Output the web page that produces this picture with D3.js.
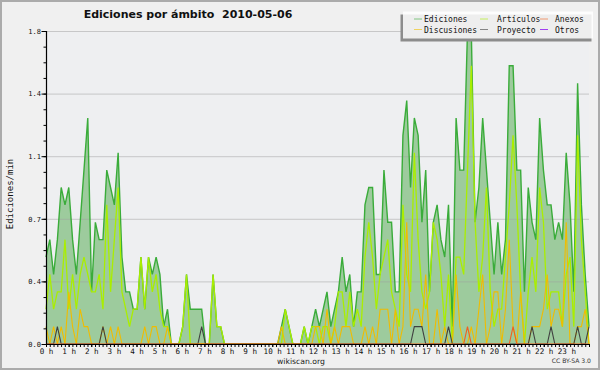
<!DOCTYPE html>
<html>
<head>
<meta charset="utf-8">
<title>Ediciones por ámbito 2010-05-06</title>
<script src="https://d3js.org/d3.v7.min.js"></script>
<style>
  body { margin: 0; background: #f0f0f0; }
  svg { display: block; }
</style>
</head>
<body>
<script>
// edits per minute, 144 samples over the day (6 per row)
var ediciones = [
  0.5,0.6,0.4,0.6,0.9,0.8,
  0.9,0.6,0.4,0.7,1.0,1.3,
  0.3,0.7,0.6,0.6,1.0,0.9,
  0.8,1.1,0.5,0.3,0.3,0.2,
  0.2,0.5,0.2,0.5,0.4,0.5,
  0.4,0.1,0.2,0,0,0,
  0.1,0.4,0.2,0.2,0.2,0.2,
  0,0,0.4,0.1,0.1,0,
  0,0,0,0,0,0,
  0,0,0,0,0,0,
  0,0,0.1,0.2,0.1,0,
  0,0,0.1,0,0.1,0.2,
  0.1,0.2,0.3,0.1,0.2,0.3,
  0.5,0.3,0.4,0.1,0.3,0.3,
  0.8,0.9,0.9,0.4,0.4,1.0,
  0.7,0.7,0.3,0.3,1.2,1.4,
  0.9,1.3,1.2,0.7,1.0,0.3,
  0.7,0.8,0.6,0.5,0.8,0.1,
  1.3,1.0,1.0,1.8,1.8,0.7,
  0.9,1.3,1.0,0.7,0.4,0.7,
  0.4,0.6,1.6,1.6,1.0,1.0,
  0.3,0.9,0.7,0.6,1.3,1.0,
  0.8,0.8,0.6,0.7,0.6,1.1,
  0.8,0.3,1.5,0.8,0.4,0.1
];

var articulos = [
  0.2,0.4,0.2,0.3,0.3,0.6,
  0.2,0.4,0.2,0.4,0.5,0.4,
  0.3,0.3,0.4,0.2,0.8,0.3,
  0.6,0.9,0.3,0.2,0.1,0.2,
  0.2,0.5,0.2,0.5,0.3,0.4,
  0.2,0.1,0.1,0,0,0,
  0.1,0.4,0,0,0,0,
  0,0,0.4,0.1,0.1,0,
  0,0,0,0,0,0,
  0,0,0,0,0,0,
  0,0,0,0.2,0.1,0,
  0,0,0.1,0,0.1,0.1,
  0,0.1,0.1,0,0.1,0.3,
  0.3,0.1,0.3,0.1,0.2,0.1,
  0.5,0.7,0.5,0.2,0.4,0.5,
  0.6,0.3,0.2,0.1,0.8,0.4,
  0.3,1.1,0.6,0.3,0.2,0.3,
  0.7,0.6,0.4,0.1,0.4,0,
  0.5,0.5,0.4,1.0,1.6,0.7,
  0.3,0.5,0.9,0.3,0.1,0.2,
  0.2,0.5,0.8,1.2,0.8,0.3,
  0,0.3,0.5,0.3,0.9,0.7,
  0.2,0.3,0.3,0.3,0.1,0.4,
  0.5,0.1,1.2,0.6,0.3,0
];

var discusiones = [
  0.1,0,0.1,0,0.1,0,
  0.3,0.1,0,0.2,0.1,0.1,
  0,0,0,0.1,0,0.1,
  0,0.1,0,0,0,0,
  0,0,0.1,0,0.1,0.1,
  0,0,0.1,0,0,0,
  0,0,0,0,0,0,
  0,0,0,0,0,0,
  0,0,0,0,0,0,
  0,0,0,0,0,0,
  0,0,0.1,0,0,0,
  0,0,0,0,0,0.1,
  0.1,0,0.2,0,0.1,0,
  0.1,0.1,0.1,0,0,0,
  0.1,0,0.1,0,0.2,0.2,
  0.2,0,0.2,0,0.1,0.7,
  0.1,0.2,0.2,0.1,0.4,0,
  0,0.2,0,0.1,0,0,
  0.4,0.1,0,0,0.1,0,
  0.2,0.4,0,0.1,0.3,0.3,
  0,0.2,0.6,0.1,0,0.3,
  0,0,0.1,0.1,0.1,0.2,
  0.4,0.1,0.2,0.2,0.1,0.7,
  0,0,0.1,0.1,0.2,0
];

var proyecto = [
  0,0,0,0.1,0,0,
  0,0,0,0,0,0,
  0,0,0,0.1,0,0,
  0,0,0,0,0,0,
  0,0,0,0,0,0,
  0,0,0,0,0,0,
  0,0,0,0,0,0.1,
  0,0,0,0,0,0,
  0,0,0,0,0,0,
  0,0,0,0,0,0,
  0,0,0,0,0,0,
  0,0,0,0,0,0,
  0,0,0,0,0,0,
  0,0,0,0,0,0,
  0,0,0,0,0,0,
  0,0,0,0,0,0,
  0,0.1,0.1,0.1,0,0,
  0,0,0,0,0.1,0,
  0,0,0,0,0,0,
  0,0,0,0,0,0,
  0,0,0,0,0,0,
  0,0,0.1,0,0,0,
  0,0.1,0,0,0,0,
  0,0,0.1,0,0,0.1
];

var anexos = [
  0,0,0,0,0,0,
  0,0,0,0,0,0,
  0,0,0,0,0,0,
  0,0,0,0,0,0,
  0,0,0,0,0,0,
  0,0,0,0,0,0,
  0,0,0,0,0,0,
  0,0,0,0,0,0,
  0,0,0,0,0,0,
  0,0,0,0,0,0,
  0,0,0,0,0,0,
  0,0,0,0,0,0,
  0,0,0,0,0,0,
  0,0,0,0,0,0,
  0,0,0,0,0,0,
  0,0,0,0,0,0,
  0,0,0,0,0,0,
  0,0,0,0,0,0,
  0,0,0,0.1,0,0,
  0,0,0,0,0,0,
  0,0,0,0.1,0,0,
  0,0,0,0,0,0,
  0,0,0,0,0,0,
  0,0,0,0,0,0
];

var yTicks = [0, 0.36, 0.72, 1.08, 1.44, 1.8];
var hourTicks = [0,1,2,3,4,5,6,7,8,9,10,11,12,13,14,15,16,17,18,19,20,21,22,23];
var hourLabels = ["0 h","1 h","2 h","3 h","4 h","5 h","6 h","7 h","8 h","9 h","10 h","11 h",
                  "12 h","13 h","14 h","15 h","16 h","17 h","18 h","19 h","20 h","21 h","22 h","23 h"];

var legendNames = ["Ediciones", "Discusiones", "Artículos", "Proyecto", "Anexos", "Otros"];
var legendColors = ["#3aac3a", "#f0c000", "#aaee00", "#404040", "#f06020", "#a040f0"];

var mono = "'DejaVu Sans Mono', monospace";
var sans = "'DejaVu Sans', sans-serif";

var svg = d3.select("body").append("svg")
    .attr("width", 600)
    .attr("height", 370);

svg.append("rect")
    .attr("x", 1).attr("y", 1)
    .attr("width", 598).attr("height", 368)
    .attr("fill", "#f0f0f0")
    .attr("stroke", "#ababab")
    .attr("stroke-width", 2);

var x = d3.scaleLinear().domain([0, ediciones.length - 1]).range([46, 589]);
var xh = d3.scaleLinear().domain([0, 24]).range([46, 589]);
var y = d3.scaleLinear().domain([0, 1.8]).range([344, 31]);

// canvas
svg.append("rect")
    .attr("x", xh(0)).attr("y", y(1.8))
    .attr("width", xh(24) - xh(0)).attr("height", y(0) - y(1.8))
    .attr("fill", "#eeeff1");

// total area
svg.append("path")
    .datum(ediciones)
    .attr("d", d3.area().x(function(d, i){ return x(i); }).y0(y(0)).y1(function(d){ return y(d); }))
    .attr("fill", "#9dcb9d");

// horizontal grid
var grid = svg.append("g")
    .attr("transform", "translate(" + xh(0) + ",0)")
    .call(d3.axisLeft(y).tickValues(yTicks.slice(1)).tickSize(-(xh(24) - xh(0))).tickFormat(""));
grid.select(".domain").remove();
grid.selectAll("line").attr("stroke", "#a0a0a0").attr("stroke-opacity", 0.5);

var line = d3.line()
    .x(function(d, i){ return x(i); })
    .y(function(d){ return y(d); });

var series = [
  { values: ediciones, color: "#3aac3a", width: 1.4 },
  { values: articulos, color: "#aaee00", width: 1.3 },
  { values: discusiones, color: "#f0bc00", width: 1.1 },
  { values: proyecto, color: "#404040", width: 1.1 },
  { values: anexos, color: "#f06020", width: 1.1 }
];

series.forEach(function(s){
  svg.append("path")
    .datum(s.values)
    .attr("d", line)
    .attr("fill", "none")
    .attr("stroke", s.color)
    .attr("stroke-width", s.width)
    .attr("stroke-linejoin", "miter");
});

// x axis: 10 minute ticks, then hour labels
var xMinor = svg.append("g")
    .attr("transform", "translate(0," + y(0) + ")")
    .call(d3.axisBottom(xh).tickValues(d3.range(0, 24.01, 1 / 6)).tickSize(3).tickFormat(""));
xMinor.select(".domain").remove();
xMinor.selectAll("line").attr("stroke", "#000");

var xAxis = svg.append("g")
    .attr("transform", "translate(0," + y(0) + ")")
    .call(d3.axisBottom(xh).tickValues(hourTicks).tickSize(3).tickPadding(1.5)
      .tickFormat(function(d, i){ return hourLabels[i]; }));
xAxis.select(".domain").remove();
xAxis.selectAll("line").attr("stroke", "#000");
xAxis.selectAll("text")
    .attr("font-family", mono)
    .attr("font-size", 7.6)
    .attr("fill", "#111");

// y axis
var yMinor = svg.append("g")
    .attr("transform", "translate(" + xh(0) + ",0)")
    .call(d3.axisLeft(y).tickValues(d3.range(0, 1.81, 0.09)).tickSize(2.5).tickFormat(""));
yMinor.select(".domain").remove();
yMinor.selectAll("line").attr("stroke", "#000");

var yAxis = svg.append("g")
    .attr("transform", "translate(" + xh(0) + ",0)")
    .call(d3.axisLeft(y).tickValues(yTicks).tickSize(4.5).tickPadding(0.5).tickFormat(d3.format(".1f")));
yAxis.select(".domain").remove();
yAxis.selectAll("line").attr("stroke", "#000");
yAxis.selectAll("text")
    .attr("font-family", mono)
    .attr("font-size", 7)
    .attr("fill", "#111");

svg.append("line")
    .attr("x1", xh(0)).attr("x2", xh(24))
    .attr("y1", y(0) + 0.5).attr("y2", y(0) + 0.5)
    .attr("stroke", "#000").attr("stroke-width", 1.2);
svg.append("line")
    .attr("x1", xh(0) + 0.5).attr("x2", xh(0) + 0.5)
    .attr("y1", y(1.8)).attr("y2", y(0) + 1)
    .attr("stroke", "#000").attr("stroke-width", 1.2);

// title and labels
svg.append("text")
    .attr("x", 188).attr("y", 18)
    .attr("text-anchor", "middle")
    .attr("font-family", sans)
    .attr("font-weight", "bold")
    .attr("font-size", 11)
    .style("white-space", "pre")
    .attr("fill", "#111")
    .text("Ediciones por ámbito  2010-05-06");

svg.append("text")
    .attr("transform", "translate(13,194) rotate(-90)")
    .attr("text-anchor", "middle")
    .attr("font-family", mono)
    .attr("font-size", 9)
    .attr("fill", "#111")
    .text("Ediciones/min");

svg.append("text")
    .attr("x", 301).attr("y", 364)
    .attr("text-anchor", "middle")
    .attr("font-family", sans)
    .attr("font-size", 7.7)
    .attr("fill", "#222")
    .text("wikiscan.org");

svg.append("text")
    .attr("x", 591).attr("y", 363)
    .attr("text-anchor", "end")
    .attr("font-family", sans)
    .attr("font-size", 6.1)
    .attr("fill", "#333")
    .text("CC BY-SA 3.0");

// legend
svg.append("rect")
    .attr("x", 400.5).attr("y", 14.5)
    .attr("width", 191).attr("height", 27)
    .attr("fill", "#8c8c8c");
svg.append("rect")
    .attr("x", 403).attr("y", 11.5)
    .attr("width", 190).attr("height", 27)
    .attr("fill", "#fff")
    .attr("fill-opacity", 0.85);

var legendCols = [[414, 424], [480, 497], [540, 555]];
var legendRows = [22, 32.5];

var leg = svg.append("g").selectAll("g")
    .data(legendNames)
    .enter().append("g");

leg.append("line")
    .attr("x1", function(d, i){ return legendCols[Math.floor(i / 2)][0]; })
    .attr("x2", function(d, i){ return legendCols[Math.floor(i / 2)][0] + 8; })
    .attr("y1", function(d, i){ return legendRows[i % 2] - 3; })
    .attr("y2", function(d, i){ return legendRows[i % 2] - 3; })
    .attr("stroke", function(d, i){ return legendColors[i]; })
    .attr("stroke-opacity", function(d){ return d == "Otros" ? 1 : 0.6; })
    .attr("stroke-width", 1);

leg.append("text")
    .attr("x", function(d, i){ return legendCols[Math.floor(i / 2)][1]; })
    .attr("y", function(d, i){ return legendRows[i % 2]; })
    .attr("font-family", mono)
    .attr("font-size", 8)
    .attr("fill", "#111")
    .text(function(d){ return d; });
</script>
</body>
</html>
